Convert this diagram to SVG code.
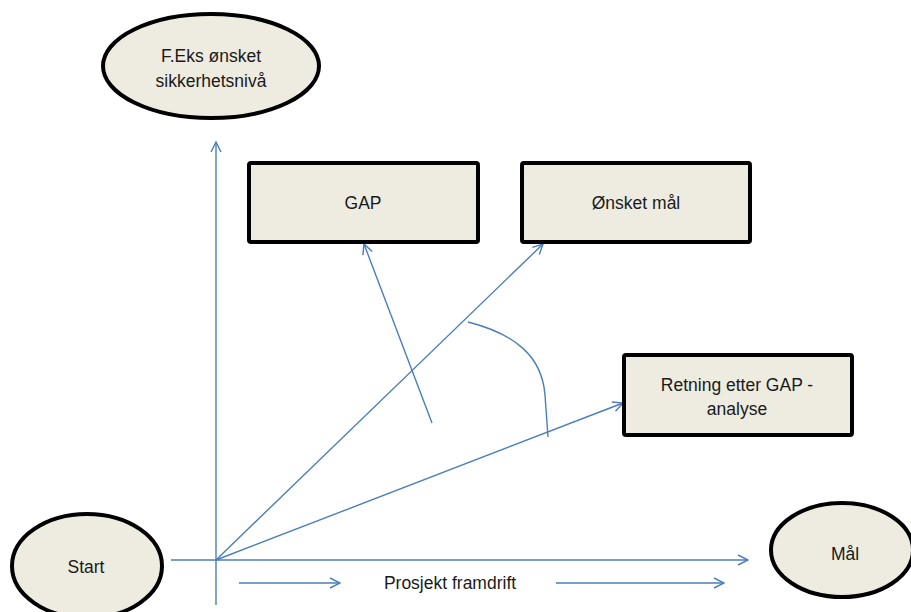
<svg xmlns="http://www.w3.org/2000/svg" width="911" height="612" viewBox="0 0 911 612">
  <style>
    .node-shape { fill: #eeece1; stroke: #000000; stroke-width: 4; }
    .label { font-family: "Liberation Sans", Arial, sans-serif; font-size: 17.5px; fill: #1a1a1a; text-anchor: middle; }
    .conn { fill: none; stroke: #4a7ebb; stroke-width: 1.4; }
  </style>
  <defs>
    <marker id="open-arrow" viewBox="0 0 12 12" refX="11" refY="6" markerWidth="12" markerHeight="12" markerUnits="userSpaceOnUse" orient="auto">
      <path d="M1,1 L11,6 L1,11" fill="none" stroke="#4a7ebb" stroke-width="1.4"/>
    </marker>
  </defs>

  <rect width="911" height="612" fill="#ffffff"/>

  <!-- connectors -->
  <g id="connectors">
    <!-- vertical axis -->
    <line class="conn" x1="216" y1="605" x2="216" y2="142" marker-end="url(#open-arrow)"/>
    <!-- horizontal axis -->
    <line class="conn" x1="171" y1="560" x2="748" y2="560" marker-end="url(#open-arrow)"/>
    <!-- progress arrows -->
    <line class="conn" x1="239" y1="583" x2="340" y2="583" marker-end="url(#open-arrow)"/>
    <line class="conn" x1="556" y1="583" x2="724" y2="583" marker-end="url(#open-arrow)"/>
    <!-- origin to desired goal -->
    <line class="conn" x1="216" y1="560" x2="543" y2="244" marker-end="url(#open-arrow)"/>
    <!-- origin to direction after GAP -->
    <line class="conn" x1="216" y1="560" x2="623" y2="403" marker-end="url(#open-arrow)"/>
    <!-- arrow into GAP -->
    <line class="conn" x1="432" y1="423" x2="364" y2="244" marker-end="url(#open-arrow)"/>
    <!-- angle arc -->
    <path class="conn" d="M468,322 C515,334 542,356 545,395 L548,437"/>
  </g>

  <g id="node-sikkerhet">
    <ellipse class="node-shape" cx="211" cy="66" rx="108" ry="52"/>
    <text class="label" x="211" y="62">F.Eks ønsket</text>
    <text class="label" x="211" y="87">sikkerhetsnivå</text>
  </g>

  <g id="node-gap">
    <rect class="node-shape" x="249" y="163" width="229" height="79" rx="2"/>
    <text class="label" x="363" y="209">GAP</text>
  </g>

  <g id="node-onsket-mal">
    <rect class="node-shape" x="522" y="163" width="228" height="79" rx="2"/>
    <text class="label" x="636" y="209">Ønsket mål</text>
  </g>

  <g id="node-retning">
    <rect class="node-shape" x="624" y="355" width="228" height="80" rx="2"/>
    <text class="label" x="737" y="391">Retning etter GAP -</text>
    <text class="label" x="737" y="415">analyse</text>
  </g>

  <g id="node-start">
    <ellipse class="node-shape" cx="87" cy="566" rx="75" ry="52"/>
    <text class="label" x="86" y="573">Start</text>
  </g>

  <g id="node-mal">
    <ellipse class="node-shape" cx="842" cy="550" rx="71" ry="47"/>
    <text class="label" x="845" y="560">Mål</text>
  </g>

  <text class="label" x="450" y="589">Prosjekt framdrift</text>
</svg>
